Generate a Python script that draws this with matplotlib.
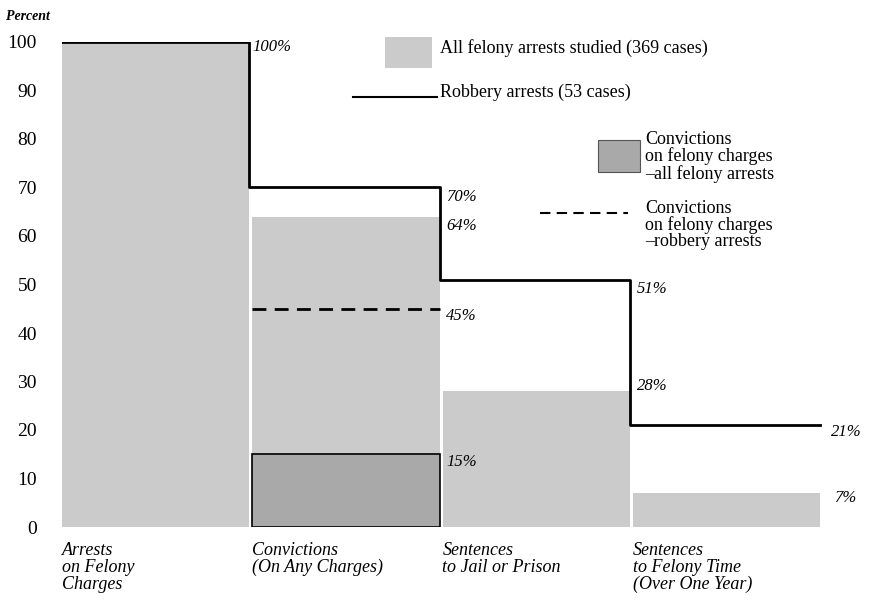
import matplotlib
matplotlib.use("Agg")
import matplotlib.pyplot as plt
from matplotlib.patches import Rectangle

# data
stages = ["Arrests\non Felony\nCharges",
          "Convictions\n(On Any Charges)",
          "Sentences\nto Jail or Prison",
          "Sentences\nto Felony Time\n(Over One Year)"]
all_felony = [100, 64, 28, 7]
robbery = [100, 70, 51, 21]
felony_conv_all = 15
felony_conv_robbery = 45
yticks = [0, 10, 20, 30, 40, 50, 60, 70, 80, 90, 100]

W, H = 877, 605
fig = plt.figure(figsize=(W / 100, H / 100), dpi=100)
# axes placed so bars run from x=62px to x=823px, y 0 -> 527px, 100 -> 42px
ax = fig.add_axes([62 / W, (H - 527) / H, (823 - 62) / W, (527 - 42) / H])
ax.set_xlim(0, 4)
ax.set_ylim(0, 100)

serif = ["Liberation Serif", "DejaVu Serif"]
light = "#cbcbcb"
dark = "#a9a9a9"
bw = 0.985

# all felony arrests bars
x = list(range(len(stages)))
ax.bar(x, all_felony, width=bw, align="edge", color=light, linewidth=0)

# convictions on felony charges (all felony arrests)
ax.bar(1, felony_conv_all, width=bw, align="edge", color=dark,
       edgecolor="black", linewidth=1.2)

# robbery arrests step line, steps on the bar right edges
edges = [0] + [i + bw for i in x]
ax.step(edges, robbery + [robbery[-1]], where="post", color="black", lw=2)

# robbery felony convictions, dashed
ax.hlines(felony_conv_robbery, 1, 1 + bw, colors="black", linestyles=(0, (5, 3)), lw=2)

# percentage labels
lab = dict(fontsize=12, style="italic", family=serif, va="center", ha="left")
ax.text(1.0, robbery[0] - 1, "%d%%" % robbery[0], **lab)
ax.text(2.02, robbery[1] - 2, "%d%%" % robbery[1], **lab)
ax.text(2.02, all_felony[1] - 2, "%d%%" % all_felony[1], **lab)
ax.text(2.02, felony_conv_robbery - 1.5, "%d%%" % felony_conv_robbery, **lab)
ax.text(2.02, felony_conv_all - 1.5, "%d%%" % felony_conv_all, **lab)
ax.text(3.02, robbery[2] - 2, "%d%%" % robbery[2], **lab)
ax.text(3.02, all_felony[2] + 1, "%d%%" % all_felony[2], **lab)
ax.text(4.04, robbery[3] - 1.5, "%d%%" % robbery[3], clip_on=False, **lab)
ax.text(4.06, all_felony[3] - 1, "%d%%" % all_felony[3], clip_on=False, **lab)

# stage labels under the bars
for i, s in enumerate(stages):
    ax.text(i, -3, s, fontsize=13, style="italic", family=serif,
            va="top", ha="left", linespacing=1.0, clip_on=False)

# ticks
ax.set_yticks(yticks)
ax.set_xticks([])
ax.tick_params(axis="y", length=0, pad=18, labelsize=14)
for t in ax.get_yticklabels():
    t.set_family(serif)
for sp in ax.spines.values():
    sp.set_visible(False)

fig.text(6 / W, 1 - 16 / H, "Percent", fontsize=10, style="italic",
         weight="bold", family=serif, va="center")

# hand-made legend (in axes data units)
def px(xp, yp):
    return (xp - 62) / 190.25, (527 - yp) / 4.85

lx, ly = px(385, 68)
ax.add_patch(Rectangle((lx, ly), 47 / 190.25, 31 / 4.85, color=light, lw=0, clip_on=False))
ax.text(*px(440, 48), "All felony arrests studied (369 cases)", fontsize=13,
        family=serif, va="center", clip_on=False)

x0, y0 = px(353, 97)
x1, _ = px(437, 97)
ax.plot([x0, x1], [y0, y0], color="black", lw=1.5, clip_on=False)
ax.text(*px(440, 92), "Robbery arrests (53 cases)", fontsize=13,
        family=serif, va="center", clip_on=False)

dx, dy = px(598, 172)
ax.add_patch(Rectangle((dx, dy), 42 / 190.25, 32 / 4.85, facecolor=dark,
                       edgecolor="#555555", lw=0.8, clip_on=False))
ax.text(*px(645, 157), "Convictions\non felony charges\n\u2013all felony arrests",
        fontsize=13, family=serif, va="center", linespacing=0.95, clip_on=False)

x0, y0 = px(540, 213)
x1, _ = px(628, 213)
ax.plot([x0, x1], [y0, y0], color="black", lw=1.5, ls=(0, (5, 3)), clip_on=False)
ax.text(*px(645, 225), "Convictions\non felony charges\n\u2013robbery arrests",
        fontsize=13, family=serif, va="center", linespacing=0.95, clip_on=False)

fig.savefig("out.png", dpi=100)
